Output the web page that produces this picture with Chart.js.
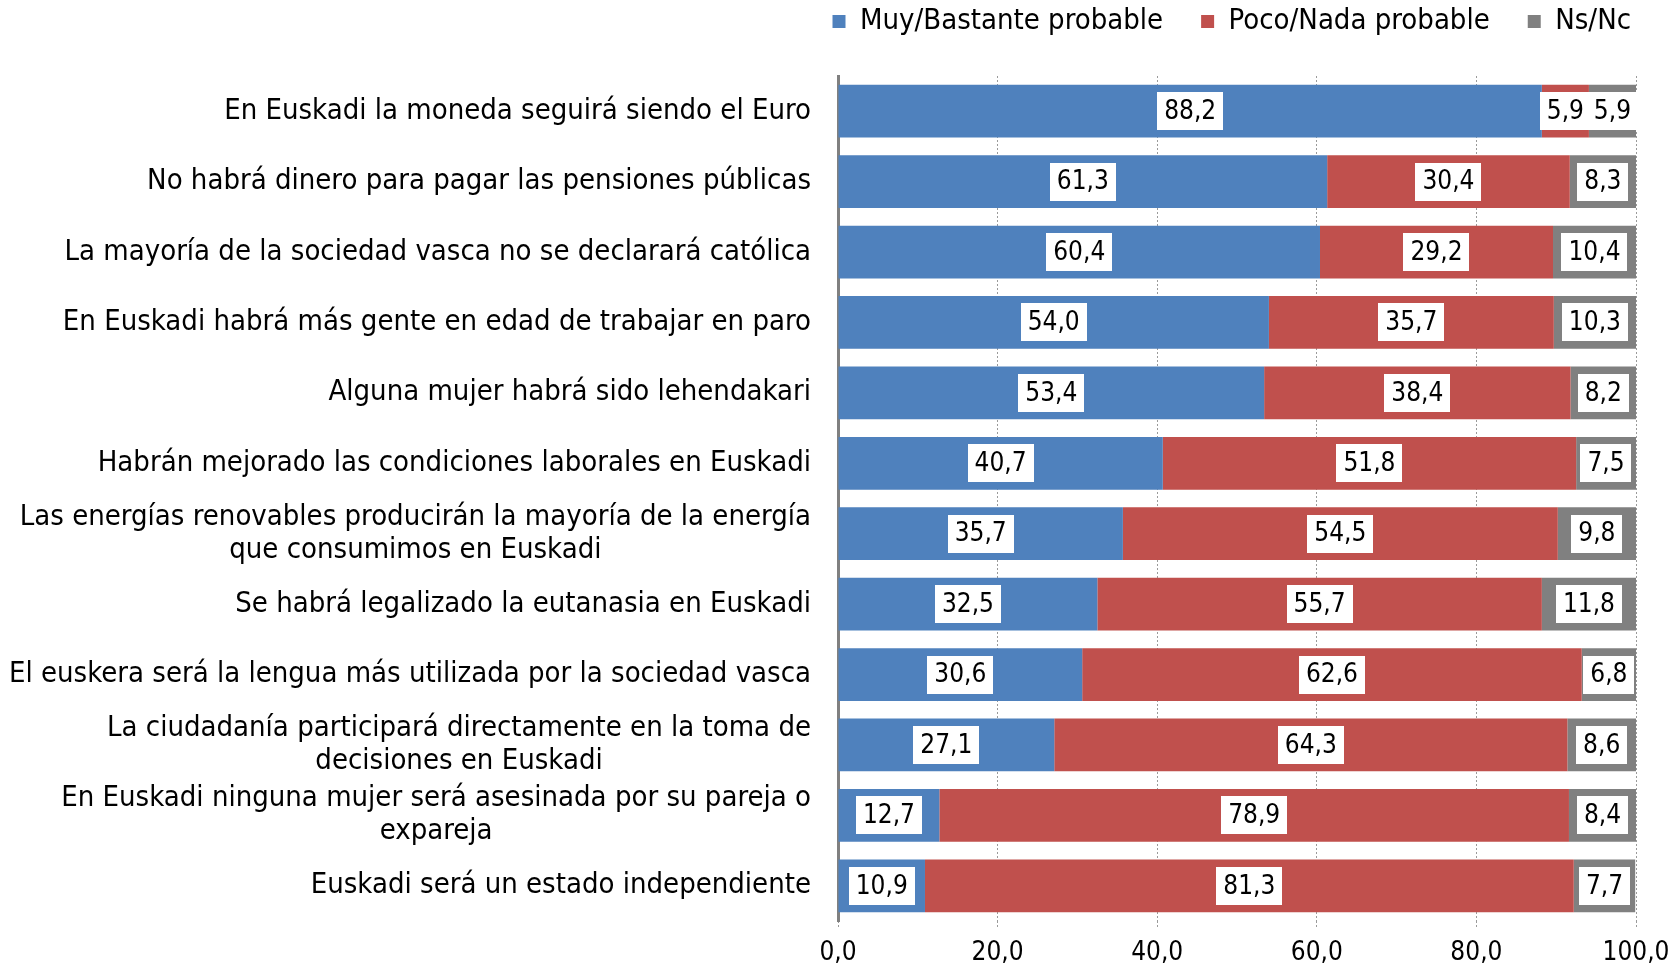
<!DOCTYPE html>
<html><head><meta charset="utf-8">
<script src="https://cdn.jsdelivr.net/npm/chart.js@4"></script>
<style>html,body{margin:0;padding:0;background:#fff;overflow:hidden}#wrap{width:1673px;height:967px;position:relative}</style>
</head><body><div id="wrap"><canvas id="c" width="1673" height="967"></canvas></div>
<script>
const categories = [
  "En Euskadi la moneda seguirá siendo el Euro",
  "No habrá dinero para pagar las pensiones públicas",
  "La mayoría de la sociedad vasca no se declarará católica",
  "En Euskadi habrá más gente en edad de trabajar en paro",
  "Alguna mujer habrá sido lehendakari",
  "Habrán mejorado las condiciones laborales en Euskadi",
  ["Las energías renovables producirán la mayoría de la energía", "que consumimos en Euskadi"],
  "Se habrá legalizado la eutanasia en Euskadi",
  "El euskera será la lengua más utilizada por la sociedad vasca",
  ["La ciudadanía participará directamente en la toma de", "decisiones en Euskadi"],
  ["En Euskadi ninguna mujer será asesinada por su pareja o", "expareja"],
  "Euskadi será un estado independiente"
];
const seriesNames = ["Muy/Bastante probable", "Poco/Nada probable", "Ns/Nc"];
const muyBastante = [88.2, 61.3, 60.4, 54.0, 53.4, 40.7, 35.7, 32.5, 30.6, 27.1, 12.7, 10.9];
const pocoNada    = [5.9, 30.4, 29.2, 35.7, 38.4, 51.8, 54.5, 55.7, 62.6, 64.3, 78.9, 81.3];
const nsNc        = [5.9, 8.3, 10.4, 10.3, 8.2, 7.5, 9.8, 11.8, 6.8, 8.6, 8.4, 7.7];
const xTickValues = [0, 20, 40, 60, 80, 100];

const FONT = "'DejaVu Sans Condensed', 'DejaVu Sans', sans-serif";
const FS = 26;     // data labels and x ticks
const FS_CAT = 29; // category labels and legend
const fmt = v => Number(v).toFixed(1).replace('.', ',');

const layoutPlugin = {
  id: 'layoutTweaks',
  beforeUpdate(chart) {
    const lg = chart.legend;
    if (lg && !lg._patched) {
      const orig = lg.fit;
      lg.fit = function () { orig.call(this); if (this.height > 0) this.height = 76; };
      lg._patched = true;
    }
  },
  afterLayout(chart) {
    const lg = chart.legend;
    if (lg) {
      const h = lg.height;
      lg.top = -31; lg.bottom = lg.top + h;
      lg.left += 33; lg.right += 33;
    }
  }
};

const yLabelsPlugin = {
  id: 'yLabels',
  afterDraw(chart) {
    const ctx = chart.ctx, ys = chart.scales.y;
    const right = chart.chartArea.left - 27;
    ctx.save();
    ctx.font = FS_CAT + 'px ' + FONT;
    ctx.fillStyle = '#000';
    ctx.textBaseline = 'middle';
    chart.data.labels.forEach((lab, i) => {
      const yc = ys.getPixelForValue(i);
      const lines = Array.isArray(lab) ? lab : [lab];
      const widths = lines.map(l => ctx.measureText(l).width);
      const maxW = Math.max(...widths);
      const cx = right - maxW / 2;
      const lh = 33;
      const y0 = yc - (lines.length - 1) * lh / 2;
      ctx.textAlign = 'center';
      lines.forEach((l, k) => ctx.fillText(l, cx, y0 + k * lh));
    });
    ctx.restore();
  }
};

const dataLabelsPlugin = {
  id: 'dataLabels',
  afterDatasetsDraw(chart) {
    const ctx = chart.ctx, ca = chart.chartArea;
    ctx.save();
    ctx.beginPath();
    ctx.rect(0, 0, ca.right + 2, chart.height);
    ctx.clip();
    ctx.font = FS + 'px ' + FONT;
    ctx.textAlign = 'center';
    ctx.textBaseline = 'middle';
    chart.data.datasets.forEach((ds, di) => {
      const meta = chart.getDatasetMeta(di);
      meta.data.forEach((el, i) => {
        const txt = fmt(ds.data[i]);
        const xm = (el.x + el.base) / 2;
        const tw = ctx.measureText(txt).width;
        const w = tw + 14, h = 38;
        ctx.fillStyle = '#fff';
        ctx.fillRect(Math.round(xm - w / 2), Math.round(el.y - h / 2), Math.round(w), h);
        ctx.fillStyle = '#000';
        ctx.fillText(txt, xm, el.y + 1);
      });
    });
    ctx.restore();
  }
};

new Chart(document.getElementById('c'), {
  type: 'bar',
  data: {
    labels: categories,
    datasets: [
      { label: seriesNames[0], data: muyBastante, backgroundColor: '#4F81BD' },
      { label: seriesNames[1], data: pocoNada, backgroundColor: '#C0504D' },
      { label: seriesNames[2], data: nsNc, backgroundColor: '#808080' }
    ]
  },
  options: {
    indexAxis: 'y',
    responsive: false,
    animation: false,
    devicePixelRatio: 1,
    datasets: { bar: { barPercentage: 0.75, categoryPercentage: 1, borderWidth: 0 } },
    layout: { padding: { top: 0, right: 37, bottom: 0, left: 0 } },
    plugins: {
      legend: {
        position: 'top',
        align: 'end',
        labels: { boxWidth: 13, boxHeight: 13, padding: 38, color: '#000', font: { family: FONT, size: FS_CAT } }
      },
      tooltip: { enabled: false }
    },
    scales: {
      x: {
        stacked: true,
        min: 0, max: 100,
        afterBuildTicks: s => { s.ticks = xTickValues.map(v => ({ value: v })); },
        ticks: { color: '#000', padding: 9, font: { family: FONT, size: FS, lineHeight: 1.15 }, callback: v => fmt(v), maxRotation: 0 },
        grid: {
          color: c => c.index === 0 ? 'rgba(0,0,0,0)' : '#9a9a9a',
          lineWidth: 1,
          drawTicks: true, tickLength: 8,
          tickColor: '#9a9a9a', tickBorderDash: [2, 2]
        },
        border: { display: false, dash: [2, 2] },
        afterFit: s => { s.height = 46; s.paddingLeft = 0; s.paddingRight = 0; }
      },
      y: {
        stacked: true,
        ticks: { display: false },
        grid: { display: false },
        border: { display: true, color: '#808080', width: 3, dash: [12, 4] },
        afterFit: s => { s.width = 838; }
      }
    }
  },
  plugins: [layoutPlugin, yLabelsPlugin, dataLabelsPlugin]
});
</script>
</body></html>
